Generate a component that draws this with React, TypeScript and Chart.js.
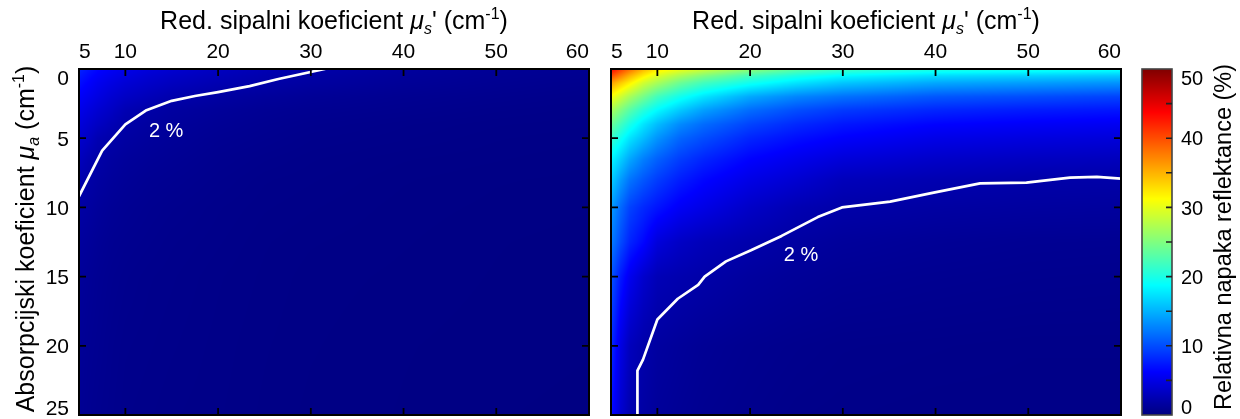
import { useEffect, useRef } from 'react';
import { Chart, registerables } from 'chart.js';

Chart.register(...registerables);

const FONT = '"Liberation Sans", Arial, Helvetica, sans-serif';

// grid of the error maps: reduced scattering (x) and absorption (y), values in %
const MUS_GRID = [5, 6, 7, 8.5, 10, 12.5, 15, 20, 25, 30, 40, 50, 60];
const MUA_GRID = [0, 0.5, 1, 2, 3, 4, 5, 6.5, 8, 10, 12.5, 15, 20, 25];

const errLeft = [
  [8.0, 7.2, 6.5, 5.8, 5.2, 4.5, 4.0, 3.2, 2.6, 2.1, 1.5, 1.1, 0.9],
  [7.4, 6.7, 6.0, 5.3, 4.7, 4.0, 3.5, 2.8, 2.25, 1.8, 1.3, 1.0, 0.8],
  [6.9, 6.2, 5.5, 4.8, 4.2, 3.6, 3.1, 2.45, 1.98, 1.6, 1.15, 0.9, 0.7],
  [6.0, 5.4, 4.8, 4.0, 3.4, 2.8, 2.25, 1.7, 1.35, 1.1, 0.85, 0.7, 0.55],
  [5.2, 4.6, 4.0, 3.3, 2.5, 1.95, 1.6, 1.25, 1.0, 0.85, 0.7, 0.55, 0.45],
  [4.5, 3.9, 3.3, 2.6, 2.0, 1.6, 1.35, 1.05, 0.85, 0.7, 0.55, 0.45, 0.4],
  [3.9, 3.3, 2.5, 2.05, 1.7, 1.4, 1.2, 0.9, 0.75, 0.6, 0.5, 0.4, 0.35],
  [3.1, 2.4, 2.0, 1.6, 1.35, 1.15, 1.0, 0.75, 0.6, 0.5, 0.4, 0.35, 0.3],
  [2.35, 1.98, 1.65, 1.35, 1.15, 0.95, 0.85, 0.65, 0.5, 0.45, 0.35, 0.3, 0.28],
  [1.85, 1.6, 1.35, 1.1, 0.95, 0.8, 0.7, 0.55, 0.45, 0.4, 0.32, 0.28, 0.25],
  [1.5, 1.3, 1.1, 0.9, 0.8, 0.7, 0.6, 0.5, 0.4, 0.35, 0.3, 0.25, 0.22],
  [1.3, 1.1, 0.95, 0.8, 0.7, 0.6, 0.55, 0.45, 0.38, 0.32, 0.28, 0.24, 0.2],
  [1.1, 0.95, 0.85, 0.7, 0.6, 0.55, 0.5, 0.42, 0.35, 0.3, 0.25, 0.22, 0.2],
  [1.0, 0.85, 0.75, 0.65, 0.55, 0.5, 0.45, 0.4, 0.33, 0.28, 0.24, 0.2, 0.18],
];

const errRight = [
  [44, 41, 38.5, 35, 32.5, 30.5, 29, 26, 23.5, 22, 20.5, 20, 19.5],
  [40, 37.5, 35, 32, 29.5, 27, 25, 22, 20, 18.5, 17, 16.5, 16],
  [36, 34, 32, 29, 27, 24, 22, 19.5, 17.5, 16, 14.5, 14, 13.5],
  [31, 29, 27, 24.5, 22, 19.5, 17.5, 14.5, 12.8, 11.8, 10.5, 10, 9.5],
  [27, 25, 23, 20.5, 18.5, 16, 14, 11.5, 10, 9, 8, 7.5, 7.2],
  [24, 22, 20, 17.5, 15.5, 13, 11.5, 9.5, 8.2, 7.3, 6.3, 5.9, 5.6],
  [21.5, 19.5, 17.5, 15.5, 13.5, 11.2, 10, 8, 6.9, 6.1, 5.1, 4.7, 4.4],
  [18.5, 16.5, 14.5, 12.5, 11, 9.2, 8, 6.3, 5.3, 4.4, 3.6, 3.2, 3.0],
  [16.5, 14, 12, 10.5, 9.2, 7.6, 6.5, 5, 4.0, 2.9, 2.4, 2.05, 1.98],
  [14, 11.5, 9.5, 8.2, 7.2, 5.8, 5, 3.5, 2.5, 2.0, 1.7, 1.55, 1.45],
  [12.5, 10, 8, 6.5, 4.5, 3.4, 2.8, 2.15, 1.65, 1.35, 1.1, 0.95, 0.9],
  [10.5, 7.5, 5.5, 3.8, 2.7, 2.3, 2.0, 1.5, 1.2, 1.0, 0.85, 0.75, 0.7],
  [8.5, 5, 3.0, 2.1, 1.6, 1.3, 1.05, 0.8, 0.65, 0.55, 0.5, 0.45, 0.45],
  [7, 4, 2.4, 1.75, 1.3, 1.05, 0.85, 0.65, 0.5, 0.45, 0.4, 0.4, 0.4],
];

// 2 % contour lines
const contourLeftMus = [5, 7.5, 10, 12.2, 15, 17.5, 20, 23.4, 26.5, 31.5];
const contourLeftMua = [9.2, 5.9, 4.0, 3.0, 2.3, 1.95, 1.67, 1.24, 0.72, 0];
const contourRightMus = [7.9, 7.85, 8.45, 10.0, 12.2, 14.4, 15.1, 17.4, 20.1, 23.4, 27.3, 29.9, 35.1, 39.8, 44.8, 49.8, 54.5, 57.4, 60];
const contourRightMua = [25, 21.8, 21.0, 18.1, 16.6, 15.6, 15.0, 13.9, 13.1, 12.06, 10.7, 10.0, 9.58, 8.93, 8.26, 8.21, 7.85, 7.8, 7.92];

const CONTOUR_LABEL = '2 %';
const labelLeftAt = [14.4, 4.5];
const labelRightAt = [25.5, 13.45];

const X_TICKS = [5, 10, 20, 30, 40, 50, 60];
const Y_TICKS = [0, 5, 10, 15, 20, 25];
const CBAR_TICKS = [0, 10, 20, 30, 40, 50];
const CBAR_MINOR = [5, 10, 15, 20, 25, 30, 35, 40, 45];
const CBAR_MIN = 0;
const CBAR_MAX = 50;

const X_TITLE = [
  { t: 'Red. sipalni koeficient ' },
  { t: 'μ', it: true },
  { t: 's', it: true, sub: true },
  { t: "' (cm" },
  { t: '-1', sup: true },
  { t: ')' },
];
const Y_TITLE = [
  { t: 'Absorpcijski koeficient ' },
  { t: 'μ', it: true },
  { t: 'a', it: true, sub: true },
  { t: ' (cm' },
  { t: '-1', sup: true },
  { t: ')' },
];
const CBAR_TITLE = [{ t: 'Relativna napaka reflektance (%)' }];

type Part = { t: string; it?: boolean; sub?: boolean; sup?: boolean };

function jet(t: number): [number, number, number] {
  const c = (v: number) => Math.max(0, Math.min(1, v));
  t = c(t);
  const r = c(Math.min(4 * t - 1.5, -4 * t + 4.5));
  const g = c(Math.min(4 * t - 0.5, -4 * t + 3.5));
  const b = c(Math.min(4 * t + 0.5, -4 * t + 2.5));
  return [Math.round(r * 255), Math.round(g * 255), Math.round(b * 255)];
}

function findCell(grid: number[], v: number): [number, number] {
  let i = 0;
  while (i < grid.length - 2 && v > grid[i + 1]) i++;
  const t = (v - grid[i]) / (grid[i + 1] - grid[i]);
  return [i, Math.max(0, Math.min(1, t))];
}

function drawRich(ctx: CanvasRenderingContext2D, parts: Part[], size: number, cx: number, baseline: number) {
  const small = Math.round(size * 0.62);
  const fontFor = (p: Part) => `${p.it ? 'italic ' : ''}${p.sub || p.sup ? small : size}px ${FONT}`;
  let w = 0;
  for (const p of parts) {
    ctx.font = fontFor(p);
    w += ctx.measureText(p.t).width;
  }
  let x = cx - w / 2;
  ctx.textAlign = 'left';
  ctx.textBaseline = 'alphabetic';
  for (const p of parts) {
    ctx.font = fontFor(p);
    const dy = p.sub ? size * 0.2 : p.sup ? -size * 0.4 : 0;
    ctx.fillText(p.t, x, baseline + dy);
    x += ctx.measureText(p.t).width;
  }
}

function heatmapPlugin(values: number[][]) {
  return {
    id: 'heatmap',
    beforeDatasetsDraw(chart: any) {
      const { ctx, chartArea } = chart;
      const xs = chart.scales.x;
      const ys = chart.scales.y;
      const left = Math.round(chartArea.left);
      const top = Math.round(chartArea.top);
      const w = Math.round(chartArea.right) - left;
      const h = Math.round(chartArea.bottom) - top;
      const off = document.createElement('canvas');
      off.width = w;
      off.height = h;
      const octx = off.getContext('2d')!;
      const img = octx.createImageData(w, h);
      const colCells: [number, number][] = [];
      for (let px = 0; px < w; px++) colCells.push(findCell(MUS_GRID, xs.getValueForPixel(left + px + 0.5)));
      for (let py = 0; py < h; py++) {
        const [j, fy] = findCell(MUA_GRID, ys.getValueForPixel(top + py + 0.5));
        const r0 = values[j];
        const r1 = values[j + 1];
        for (let px = 0; px < w; px++) {
          const [i, fx] = colCells[px];
          const a = r0[i] * (1 - fx) + r0[i + 1] * fx;
          const b = r1[i] * (1 - fx) + r1[i + 1] * fx;
          const v = a * (1 - fy) + b * fy;
          const [R, G, B] = jet((v - CBAR_MIN) / (CBAR_MAX - CBAR_MIN));
          const k = (py * w + px) * 4;
          img.data[k] = R;
          img.data[k + 1] = G;
          img.data[k + 2] = B;
          img.data[k + 3] = 255;
        }
      }
      octx.putImageData(img, 0, 0);
      ctx.drawImage(off, left, top);
    },
  };
}

function framePlugin(labelAt: number[], showY: boolean) {
  return {
    id: 'frame',
    afterDatasetsDraw(chart: any) {
      const { ctx, chartArea } = chart;
      const { left, right, top, bottom } = chartArea;
      const xs = chart.scales.x;
      const ys = chart.scales.y;
      ctx.save();
      ctx.fillStyle = '#ffffff';
      ctx.font = `20px ${FONT}`;
      ctx.textAlign = 'center';
      ctx.textBaseline = 'middle';
      ctx.fillText(CONTOUR_LABEL, xs.getPixelForValue(labelAt[0]), ys.getPixelForValue(labelAt[1]));

      ctx.strokeStyle = '#000';
      ctx.lineWidth = 2;
      ctx.strokeRect(left, top, right - left, bottom - top);
      ctx.lineWidth = 1.8;
      ctx.beginPath();
      for (const v of X_TICKS) {
        const p = xs.getPixelForValue(v);
        if (p <= left + 1 || p >= right - 1) continue;
        ctx.moveTo(p, top);
        ctx.lineTo(p, top + 7);
        ctx.moveTo(p, bottom);
        ctx.lineTo(p, bottom - 7);
      }
      for (const v of Y_TICKS) {
        const p = ys.getPixelForValue(v);
        if (p <= top + 1 || p >= bottom - 1) continue;
        ctx.moveTo(left, p);
        ctx.lineTo(left + 7, p);
        ctx.moveTo(right, p);
        ctx.lineTo(right - 7, p);
      }
      ctx.stroke();

      ctx.fillStyle = '#000';
      drawRich(ctx, X_TITLE, 25, (left + right) / 2, 29);

      if (showY) {
        ctx.font = `21px ${FONT}`;
        ctx.textAlign = 'right';
        ctx.textBaseline = 'alphabetic';
        const cap = 15;
        Y_TICKS.forEach((v, i) => {
          const p = ys.getPixelForValue(v);
          let c = p;
          if (i === 0) c = p + cap / 2 + 1;
          else if (i === Y_TICKS.length - 1) c = p - cap / 2 - 0.5;
          ctx.fillText(String(v), left - 10, c + cap / 2);
        });
        ctx.save();
        ctx.translate(34, (top + bottom) / 2 - 3);
        ctx.rotate(-Math.PI / 2);
        drawRich(ctx, Y_TITLE, 25, 0, 0);
        ctx.restore();
      }
      ctx.restore();
    },
  };
}

function panelConfig(values: number[][], cMus: number[], cMua: number[], labelAt: number[], x0: number, x1: number, showY: boolean): any {
  return {
    type: 'scatter',
    data: {
      datasets: [
        {
          data: cMus.map((x, i) => ({ x, y: cMua[i] })),
          showLine: true,
          borderColor: '#ffffff',
          borderWidth: 2.7,
          borderJoinStyle: 'round',
          borderCapStyle: 'round',
          pointRadius: 0,
          tension: 0,
          fill: false,
        },
      ],
    },
    options: {
      animation: false,
      responsive: false,
      events: [],
      layout: { padding: { left: x0, right: 1240 - x1, top: 0, bottom: 4 } },
      plugins: { legend: { display: false }, tooltip: { enabled: false }, title: { display: false } },
      scales: {
        x: {
          type: 'linear',
          position: 'top',
          min: 5,
          max: 60,
          afterBuildTicks: (s: any) => {
            s.ticks = X_TICKS.map((v) => ({ value: v }));
          },
          afterFit: (s: any) => {
            s.height = 69;
          },
          grid: { display: false, drawTicks: false },
          border: { display: false },
          ticks: {
            align: 'inner',
            padding: 4,
            color: '#000',
            font: { family: FONT, size: 21 },
            maxRotation: 0,
            autoSkip: false,
            callback: (v: any) => String(v),
          },
        },
        y: { type: 'linear', reverse: true, min: 0, max: 25, display: false },
      },
    },
    plugins: [heatmapPlugin(values), framePlugin(labelAt, showY)],
  };
}

function colorbarConfig(): any {
  return {
    type: 'scatter',
    data: { datasets: [] },
    options: {
      animation: false,
      responsive: false,
      events: [],
      layout: { padding: { left: 1142, right: 1240 - 1172, top: 69, bottom: 4 } },
      plugins: { legend: { display: false }, tooltip: { enabled: false } },
      scales: {
        x: { type: 'linear', min: 0, max: 1, display: false },
        y: { type: 'linear', min: CBAR_MIN, max: CBAR_MAX, display: false },
      },
    },
    plugins: [
      {
        id: 'cbar',
        afterDraw(chart: any) {
          const { ctx, chartArea } = chart;
          const { left, right, top, bottom } = chartArea;
          const ys = chart.scales.y;
          ctx.save();
          for (let py = Math.round(top); py < Math.round(bottom); py++) {
            const v = ys.getValueForPixel(py + 0.5);
            const [R, G, B] = jet((v - CBAR_MIN) / (CBAR_MAX - CBAR_MIN));
            ctx.fillStyle = `rgb(${R},${G},${B})`;
            ctx.fillRect(left, py, right - left, 1);
          }
          ctx.strokeStyle = '#444';
          ctx.lineWidth = 1.6;
          ctx.strokeRect(left, top, right - left, bottom - top);
          ctx.strokeStyle = '#222';
          ctx.lineWidth = 1.6;
          ctx.beginPath();
          for (const v of CBAR_MINOR) {
            const p = ys.getPixelForValue(v);
            ctx.moveTo(right, p);
            ctx.lineTo(right - 6, p);
          }
          ctx.stroke();
          ctx.fillStyle = '#000';
          ctx.font = `20px ${FONT}`;
          ctx.textAlign = 'left';
          ctx.textBaseline = 'alphabetic';
          const cap = 14.3;
          CBAR_TICKS.forEach((v, i) => {
            const p = ys.getPixelForValue(v);
            let c = p;
            if (i === 0) c = p - cap / 2 - 1.5;
            else if (i === CBAR_TICKS.length - 1) c = p + cap / 2 + 2;
            ctx.fillText(String(v), right + 9, c + cap / 2);
          });
          ctx.translate(1231, (top + bottom) / 2 - 5);
          ctx.rotate(-Math.PI / 2);
          drawRich(ctx, CBAR_TITLE, 23.5, 0, 0);
          ctx.restore();
        },
      },
    ],
  };
}

export default function App() {
  const leftRef = useRef<HTMLCanvasElement>(null);
  const rightRef = useRef<HTMLCanvasElement>(null);
  const cbarRef = useRef<HTMLCanvasElement>(null);

  useEffect(() => {
    document.body.style.margin = '0';
    const charts = [
      new Chart(leftRef.current!, panelConfig(errLeft, contourLeftMus, contourLeftMua, labelLeftAt, 79, 589, true)),
      new Chart(rightRef.current!, panelConfig(errRight, contourRightMus, contourRightMua, labelRightAt, 611, 1121, false)),
      new Chart(cbarRef.current!, colorbarConfig()),
    ];
    return () => charts.forEach((c) => c.destroy());
  }, []);

  const cs: any = { position: 'absolute', left: 0, top: 0, width: 1240, height: 419 };
  return (
    <div style={{ position: 'relative', width: 1240, height: 419, overflow: 'hidden', background: '#fff' }}>
      <style>{'body{margin:0;}'}</style>
      <canvas ref={leftRef} width={1240} height={419} style={cs} />
      <canvas ref={rightRef} width={1240} height={419} style={cs} />
      <canvas ref={cbarRef} width={1240} height={419} style={cs} />
    </div>
  );
}
